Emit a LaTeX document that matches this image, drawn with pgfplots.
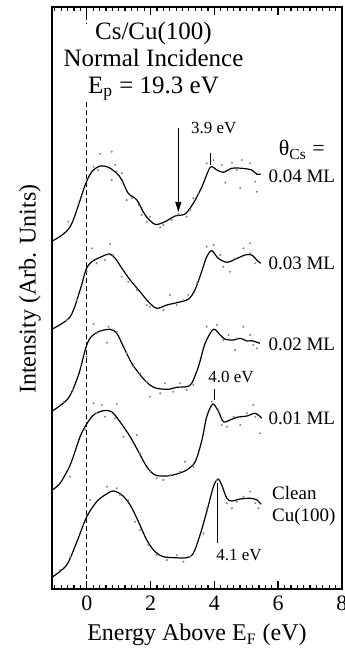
\documentclass[border=0pt]{standalone}
\usepackage{fontspec}
\setmainfont{Liberation Serif}
\usepackage{pgfplots}
\pgfplotsset{compat=1.18}
\usetikzlibrary{arrows.meta}
\begin{document}
\begin{tikzpicture}
\begin{axis}[
  name=ax,
  scale only axis,
  width=145pt, height=291pt,
  xmin=-1.09, xmax=8, ymin=65, ymax=647,
  xtick={0,2,4,6,8}, minor x tick num=9,
  ytick=\empty,
  xtick pos=both,
  tick align=inside,
  major tick length=4pt, minor tick length=2.2pt,
  tick style={black, line width=0.7pt},
  minor tick style={black, line width=0.6pt},
  axis line style={black, line width=0.9pt},
  /pgf/number format/assume math mode=true,
  ticklabel style={font=\fontsize{11}{13}\selectfont},
  xlabel={Energy Above E\textsubscript{F} (eV)},
  ylabel={Intensity (Arb. Units)},
  label style={font=\fontsize{12}{14}\selectfont},
  xlabel style={at={(axis description cs:0.5,-0.079)}, anchor=center},
  ylabel style={at={(axis description cs:-0.076,0.515)}, anchor=center},
  clip=false,
]
% dashed Fermi level line
\addplot[black, line width=0.5pt, dash pattern=on 2.5pt off 1.5pt] coordinates {(0,647)(0,630)};
\addplot[black, line width=0.5pt, dash pattern=on 2.5pt off 1.5pt] coordinates {(0,552)(0,65)};
% measured points (gray dots)
\addplot[only marks, mark=*, mark size=0.3pt, black!45] coordinates {
(0.42,500)(0.78,502.3)(0.21,487.3)(0.36,484)(0.89,489)(0.94,482.3)(0.78,474)(1.10,480.7)(1.25,454)(1.41,455.7)(1.62,449)(1.72,439)(1.88,432.3)(1.98,437.3)(2.30,426.7)(2.40,429)(2.66,434)(2.87,440)(3.13,437.3)(3.24,444)(3.34,455.7)(3.50,460.7)(3.76,490.7)(3.97,494)(4.23,489)(4.34,471.3)(4.55,491.3)(4.70,484)(4.86,494)(5.12,490.7)(5.28,472.3)(5.33,462.3)(4.81,465.7)(-0.58,432.3)(-0.26,450.7)};
\addplot[only marks, mark=*, mark size=0.3pt, black!45] coordinates {
(0.73,410)(0.16,405.7)(0,382.3)(0.31,390.7)(0.57,394)(0.83,399)(1.10,377.3)(1.30,372.3)(1.57,364)(1.88,349)(1.98,347.3)(2.40,344)(2.61,359)(2.82,349)(3.03,354)(3.18,359)(3.45,370.7)(3.76,407.3)(3.97,409)(4.18,399)(4.28,387.3)(4.49,382.3)(4.65,395.7)(4.91,405.7)(5.12,410.7)(5.28,390.7)(5.12,400.7)(-0.63,334)(-0.31,354)};
\addplot[only marks, mark=*, mark size=0.3pt, black!45] coordinates {
(0.21,330)(0.68,327.3)(0,297.3)(0.31,320.7)(0.63,311.3)(0.94,322.3)(1.25,300.7)(1.46,287.3)(1.67,280.7)(1.88,272.3)(1.98,257.3)(2.30,260.7)(2.45,270.7)(2.71,262.3)(2.92,270.7)(3.13,264)(3.34,269)(3.76,327.3)(4.08,329)(4.28,314)(4.44,319)(4.65,304)(4.70,315.7)(4.91,327.3)(5.12,319)(5.22,309)(5.33,305.7)(-0.73,252.3)(-0.42,264)};
\addplot[only marks, mark=*, mark size=0.3pt, black!45] coordinates {
(0.21,250.7)(0.47,249)(0.94,250)(-0.05,224)(0.31,240.7)(0.57,237.3)(0.89,235.7)(1.15,217.3)(1.57,219)(1.67,200.7)(1.98,182.3)(2.19,175.7)(2.40,174)(2.61,179)(2.92,182.3)(3.08,192.3)(3.34,187.3)(3.92,252.3)(4.13,244)(4.23,229)(4.39,227.3)(4.60,237.3)(4.81,229)(5.02,240.7)(5.22,249)(5.28,237.3)(5.43,220.7)(-0.52,177.3)};
\addplot[only marks, mark=*, mark size=0.3pt, black!45] coordinates {
(0.10,154)(0.63,167.3)(0.94,165.7)(1.04,159)(1.30,154)(1.51,132.3)(1.67,124)(1.93,109)(2.19,99)(2.51,94)(2.82,99)(3.03,92.3)(3.24,97.3)(3.66,120.7)(3.76,145.7)(4.08,174)(4.39,150.7)(4.55,145.7)(4.70,152.3)(4.91,157.3)(5.12,162.3)(5.28,150.7)(5.38,145.7)(-0.84,84)(-0.52,97.3)};
% 0.04 ML
\addplot[black, line width=0.6pt, smooth] coordinates {
(-1.08,413)(-0.52,427.3)(-0.05,469)(0.16,482.3)(0.42,488)(0.68,486.7)(0.94,480.7)(1.10,474)(1.30,460.7)(1.57,454)(1.83,439)(2.14,429.7)(2.45,432.3)(2.77,438)(3.08,440)(3.34,450.7)(3.61,467.3)(3.87,486.7)(4.08,484)(4.28,481.7)(4.55,485.7)(4.86,485.7)(5.17,484)(5.33,479.7)(5.45,480)};
% 0.03 ML
\addplot[black, line width=0.6pt, smooth] coordinates {
(-1.08,325)(-0.52,337.3)(-0.21,364)(-0.02,384.7)(0.16,392.3)(0.42,396.7)(0.71,400)(0.89,395.7)(1.10,385.7)(1.36,374)(1.67,362.3)(1.93,352.3)(2.19,345.7)(2.51,349)(2.82,351.3)(3.18,354.7)(3.39,364)(3.60,382.3)(3.76,397.3)(3.92,403.3)(4.12,395.7)(4.39,391.7)(4.65,394.7)(4.96,399)(5.17,399)(5.35,393.3)(5.45,390.7)};
% 0.02 ML
\addplot[black, line width=0.6pt, smooth] coordinates {
(-1.08,243)(-0.58,255.7)(-0.26,279)(-0.05,304)(0.10,315.7)(0.36,322.3)(0.73,324.7)(0.94,320.7)(1.15,307.3)(1.41,290.7)(1.72,277.3)(1.98,269)(2.19,265.7)(2.56,264.7)(2.82,266.7)(3.13,267.3)(3.29,270.7)(3.50,287.3)(3.71,310.7)(3.97,324.7)(4.18,319)(4.34,314.7)(4.60,314)(4.81,315.7)(5.02,313)(5.17,313.3)(5.43,310.7)};
% 0.01 ML
\addplot[black, line width=0.6pt, smooth] coordinates {
(-1.08,164)(-0.84,170.7)(-0.52,189)(-0.21,217.3)(-0.02,229)(0.21,239)(0.52,243.3)(0.78,242.3)(1.04,232.3)(1.36,217.3)(1.62,202.3)(1.88,187.3)(2.14,179)(2.51,178)(2.82,180)(3.13,184)(3.40,192.3)(3.61,214)(3.76,237.3)(3.95,250)(4.13,242.3)(4.28,232.3)(4.49,234)(4.70,236.7)(5.02,238)(5.28,240.7)(5.49,235.7)};
% Clean Cu(100)
\addplot[black, line width=0.6pt, smooth] coordinates {
(-1.08,77)(-0.63,89)(-0.31,112.3)(0,137.3)(0.31,152.3)(0.57,159)(0.83,163)(1.10,159)(1.36,149)(1.62,132.3)(1.88,114)(2.14,102.3)(2.40,97.3)(2.77,96.3)(3.13,96.3)(3.34,100.7)(3.55,119)(3.76,142.3)(3.97,167.3)(4.11,175)(4.23,169)(4.39,155.7)(4.55,153)(4.81,155)(5.13,155.7)(5.34,154)(5.46,149.7)};
% markers
\draw[black, line width=0.4pt, -{Triangle[length=5pt,width=3pt]}] (axis cs:2.87,526) -- (axis cs:2.87,442);
\addplot[black, line width=0.4pt] coordinates {(3.89,501)(3.89,489)};
\addplot[black, line width=0.4pt] coordinates {(4.0,265)(4.0,254)};
\addplot[black, line width=0.4pt] coordinates {(4.08,171)(4.08,111)};
% ruler ticks on top and bottom edges
\foreach \x in {-1.0,-0.8,...,7.9} {
  \edef\temp{\noexpand\draw[black, line width=0.55pt] (axis cs:\x,65) -- ([yshift=2.2pt]axis cs:\x,65) (axis cs:\x,647) -- ([yshift=-2.2pt]axis cs:\x,647);}\temp
}
\foreach \x in {0,2,4,6} {
  \edef\temp{\noexpand\draw[black, line width=0.65pt] (axis cs:\x,65) -- ([yshift=4pt]axis cs:\x,65) (axis cs:\x,647) -- ([yshift=-4pt]axis cs:\x,647);}\temp
}
% texts
\node[align=center, font=\fontsize{12.5}{13.5}\selectfont] at (axis cs:2.09,593) {Cs/Cu(100)\\Normal Incidence\\E\textsubscript{p} = 19.3 eV};
\node[font=\fontsize{8.5}{10}\selectfont] at (axis cs:3.98,526) {3.9 eV};
\node[font=\fontsize{8.5}{10}\selectfont] at (axis cs:4.52,277.3) {4.0 eV};
\node[font=\fontsize{8.5}{10}\selectfont] at (axis cs:4.77,99) {4.1 eV};
\node[font=\fontsize{11}{13}\selectfont] at (axis cs:6.74,504) {θ\textsubscript{Cs} =};
\node[font=\fontsize{9.5}{11}\selectfont] at (axis cs:6.74,478) {0.04 ML};
\node[font=\fontsize{9.5}{11}\selectfont] at (axis cs:6.74,390.7) {0.03 ML};
\node[font=\fontsize{9.5}{11}\selectfont] at (axis cs:6.74,310) {0.02 ML};
\node[font=\fontsize{9.5}{11}\selectfont] at (axis cs:6.74,235.7) {0.01 ML};
\node[align=left, anchor=west, inner sep=0pt, font=\fontsize{9.5}{10.8}\selectfont] at (axis cs:5.80,148.2) {Clean\\Cu(100)};
\end{axis}
\pgfresetboundingbox
\path ([xshift=-26pt,yshift=-32.5pt]ax.south west) rectangle ([xshift=1pt,yshift=3.5pt]ax.north east);
\end{tikzpicture}
\end{document}
